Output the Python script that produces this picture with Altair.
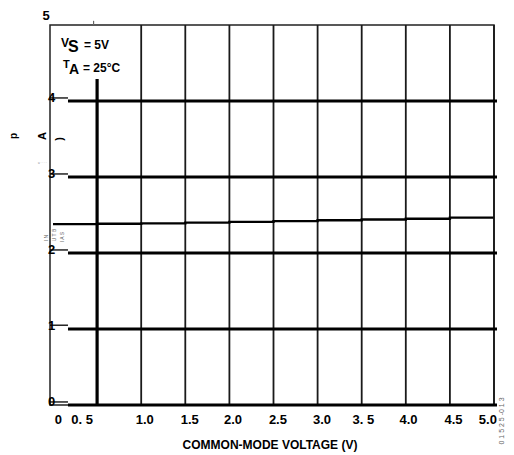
import altair as alt
import pandas as pd

# data
cm_voltage = [0.0, 0.5, 1.0, 1.5, 2.0, 2.5, 3.0, 3.5, 4.0, 4.5, 4.98]
bias_current = [2.38, 2.385, 2.39, 2.40, 2.41, 2.42, 2.43, 2.44, 2.45, 2.465, 2.48]

vgrid = [1.0, 1.5, 2.0, 2.5, 3.0, 3.5, 4.0, 4.5, 5.0]
hgrid = [0, 1, 2, 3, 4]
ytick_pos = [0.04, 1.05, 2.04, 3.04, 4.04]
ylabels = ["0", "1", "2", "3", "4"]
xlabel_text = ["0", "0. 5", "1.0", "1.5", "2.0", "2.5", "3.0", "3. 5", "4.0", "4.5", "5.0"]
xlabel_pos = [0.06, 0.33, 1.04, 1.55, 2.04, 2.55, 3.05, 3.52, 4.03, 4.54, 4.93]

XD = [-0.034, 5.0]
YD = [0, 5]
FONT = "Liberation Sans"

xs = alt.Scale(domain=XD, nice=False, zero=False)
ys = alt.Scale(domain=YD, nice=False, zero=False)

line_df = pd.DataFrame({"x": cm_voltage, "y": bias_current})
vg_df = pd.DataFrame({"x": vgrid, "y0": 0, "y1": 5})
hg_df = pd.DataFrame({"y": hgrid, "x0": 0.17, "x1": 5.034})
yt_df = pd.DataFrame({"y": ytick_pos, "x0": -0.034, "x1": 0.17, "lab": ylabels, "yl": hgrid})
xl_df = pd.DataFrame({"x": xlabel_pos, "lab": xlabel_text})

vgrid_l = alt.Chart(vg_df).mark_rule(color="#1a1a1a", strokeWidth=1.8).encode(
    x=alt.X("x:Q", scale=xs, axis=None),
    y=alt.Y("y0:Q", scale=ys, axis=None),
    y2="y1:Q",
)
thick_v = alt.Chart(pd.DataFrame({"x": [0.5], "y0": [0], "y1": [4.29]})).mark_rule(
    color="black", strokeWidth=3.2
).encode(x=alt.X("x:Q", scale=xs), y=alt.Y("y0:Q", scale=ys), y2="y1:Q")

hgrid_l = alt.Chart(hg_df).mark_rule(color="black", strokeWidth=3.2).encode(
    y=alt.Y("y:Q", scale=ys), x=alt.X("x0:Q", scale=xs), x2="x1:Q"
)
yticks = alt.Chart(yt_df).mark_rule(color="black", strokeWidth=1.3).encode(
    y=alt.Y("y:Q", scale=ys), x=alt.X("x0:Q", scale=xs), x2="x1:Q"
)
toptick = alt.Chart(pd.DataFrame({"x": [0.46], "y0": [5.0], "y1": [5.055]})).mark_rule(
    color="#666", strokeWidth=1.2
).encode(x=alt.X("x:Q", scale=xs), y=alt.Y("y0:Q", scale=ys), y2="y1:Q")

data_line = alt.Chart(line_df).mark_line(color="black", strokeWidth=2.4, interpolate="step-after").encode(
    x=alt.X("x:Q", scale=xs), y=alt.Y("y:Q", scale=ys)
)

ylab = alt.Chart(yt_df).mark_text(
    font=FONT, fontSize=13, fontWeight="bold", align="center", baseline="middle", dy=-3
).encode(x=alt.value(1.5), y=alt.Y("yl:Q", scale=ys), text="lab:N")

top5 = alt.Chart(pd.DataFrame({"t": ["5"]})).mark_text(
    font=FONT, fontSize=13, fontWeight="bold", align="center", baseline="alphabetic"
).encode(x=alt.value(-4), y=alt.value(-5), text="t:N")

xlab = alt.Chart(xl_df).mark_text(
    font=FONT, fontSize=13, fontWeight="bold", align="center", baseline="middle"
).encode(x=alt.X("x:Q", scale=xs), y=alt.value(395), text="lab:N")

xtitle = alt.Chart(pd.DataFrame({"t": ["COMMON-MODE VOLTAGE (V)"]})).mark_text(
    font=FONT, fontSize=12, fontWeight="bold", align="center", baseline="middle"
).encode(x=alt.value(220), y=alt.value(420), text="t:N")

def txt(t, x, y, size, align="left", angle=0, color="black", weight="bold"):
    return alt.Chart(pd.DataFrame({"t": [t]})).mark_text(
        font=FONT, fontSize=size, fontWeight=weight, align=align, baseline="middle",
        angle=angle, color=color
    ).encode(x=alt.value(x), y=alt.value(y), text="t:N")

annots = [
    txt("V", 11, 18, 12),
    txt("S", 18, 22, 16),
    txt("= 5V", 34, 20, 12),
    txt("T", 13, 40, 11),
    txt("A", 19, 45, 14),
    txt("= 25°C", 33, 43, 12),
    txt("p", -36, 111, 10, align="center", angle=270),
    txt("A", -7, 111, 11, align="center", angle=270),
    txt(")", 10, 114, 11, align="center", angle=270),
    txt("u  ·  ·  ·  ·", -12, 138, 3, weight="normal", color="#777"),
    txt("I N", -4, 213, 5, align="center", angle=270, weight="normal", color="#555"),
    txt("U T B", 4, 210, 5, align="center", angle=270, weight="normal", color="#555"),
    txt("I A S", 12, 212, 5, align="center", angle=270, weight="normal", color="#555"),
    txt("0 1 5 2 5 -0 1 3", 452, 396, 7, align="center", angle=270, weight="normal", color="#666"),
]

chart = alt.layer(
    vgrid_l, thick_v, hgrid_l, yticks, toptick, data_line, ylab, top5, xlab, xtitle, *annots
).properties(
    width=444, height=380,
    autosize=alt.AutoSizeParams(type="none"),
    padding={"left": 42, "top": 17, "right": 12, "bottom": 52},
).configure_view(stroke="#222", strokeWidth=1.5)

chart.save("out.html", embed_options={"renderer": "svg", "actions": False})
